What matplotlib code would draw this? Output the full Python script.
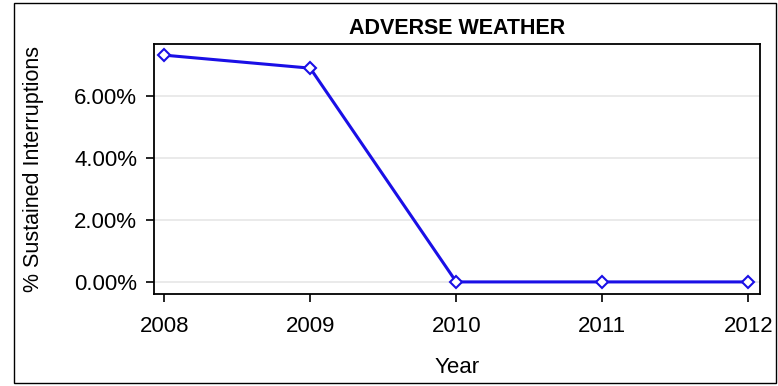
import matplotlib
matplotlib.use("Agg")
import matplotlib.pyplot as plt
from matplotlib.patches import Rectangle
from matplotlib.ticker import FuncFormatter

# data
years = [2008, 2009, 2010, 2011, 2012]
pct_interruptions = [7.32, 6.90, 0.0, 0.0, 0.0]
y_ticks = [0, 2, 4, 6]

plt.rcParams["font.family"] = ["Liberation Sans", "DejaVu Sans"]

W, H = 778, 386
fig = plt.figure(figsize=(W / 100, H / 100), dpi=100)

# outer frame around the whole graphic
fig.patches.append(Rectangle((14 / W, 3 / H), (776 - 14) / W, (383 - 3) / H,
                             transform=fig.transFigure, fill=False,
                             edgecolor="black", linewidth=1.0))

left, right, top, bottom = 154, 760, 44, 294
ax = fig.add_axes([left / W, 1 - bottom / H, (right - left) / W, (bottom - top) / H])

ax.plot(years, pct_interruptions, color="#1a0fe6", linewidth=2.2,
        marker="D", markersize=6.5, markerfacecolor="white",
        markeredgecolor="#1a0fe6", markeredgewidth=1.5, zorder=3)

ax.set_xlim(2007.93, 2012.08)
ax.set_ylim(-0.39, 7.68)
ax.set_xticks(years)
ax.set_yticks(y_ticks)
ax.yaxis.set_major_formatter(FuncFormatter(lambda v, p: f"{v:.2f}%"))
ax.grid(axis="y", color="#e6e6e6", linewidth=1.2, zorder=0)
ax.set_axisbelow(True)

for s in ax.spines.values():
    s.set_linewidth(1.3)
ax.tick_params(axis="both", labelsize=16, length=6, width=1.2, colors="black")
ax.tick_params(axis="x", pad=10)
ax.tick_params(axis="y", pad=6)

ax.set_title("ADVERSE WEATHER", fontsize=15.5, fontweight="bold", pad=7)
ax.set_xlabel("Year", fontsize=16, labelpad=14)
ax.set_ylabel("% Sustained Interruptions", fontsize=15.5, labelpad=22)

fig.savefig("out.png", dpi=100)
